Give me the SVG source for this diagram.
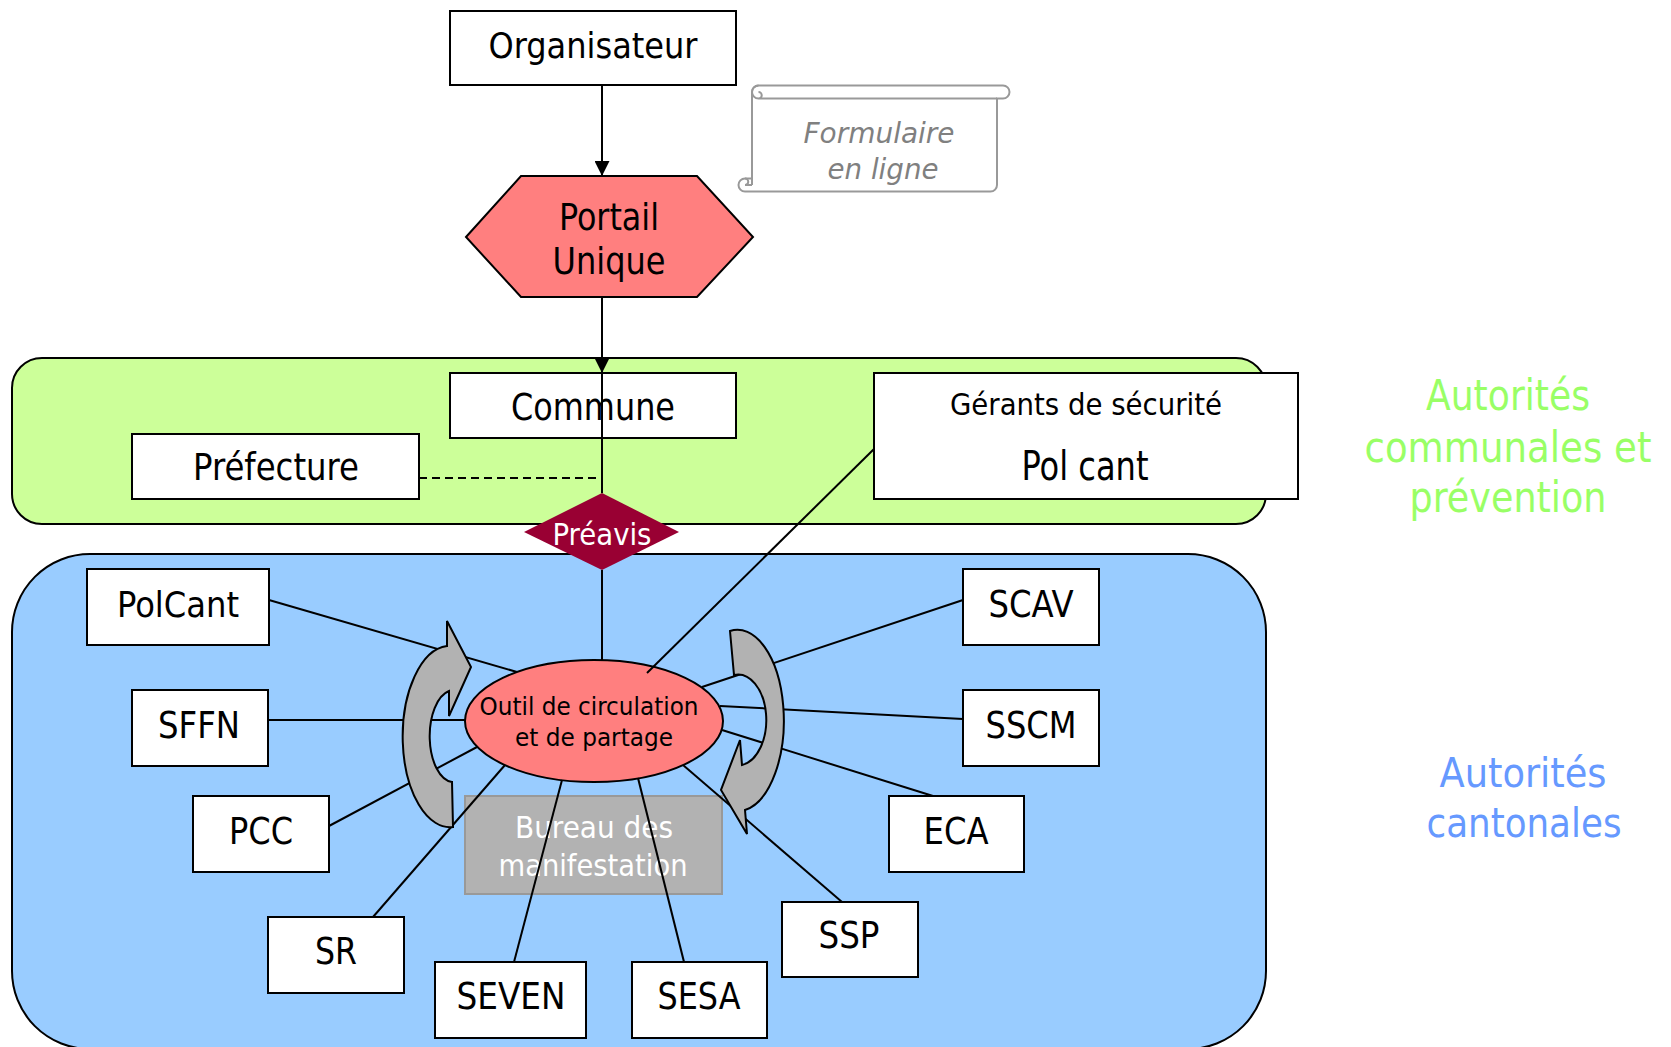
<svg xmlns="http://www.w3.org/2000/svg" width="1671" height="1047" viewBox="0 0 1671 1047">
<style>
.t{font-family:'DejaVu Sans Condensed','DejaVu Sans',sans-serif;font-stretch:condensed;text-anchor:middle;fill:#000}
.box{fill:#fff;stroke:#000;stroke-width:2}
.ln{stroke:#000;stroke-width:2;fill:none}
.arc{fill:#b2b2b2;stroke:#000;stroke-width:2;stroke-linejoin:miter}
</style>
<defs>
<marker id="ah" viewBox="0 0 10 10" refX="10" refY="5" markerWidth="16" markerHeight="15" orient="auto" markerUnits="userSpaceOnUse">
<path d="M0,0 L10,5 L0,10 z" fill="#000"/>
</marker>
</defs>
<rect width="1671" height="1047" fill="#fff"/>
<g id="bands">
<rect id="band-communal" x="12" y="358" width="1254" height="166" rx="30" ry="30" fill="#ccff99" stroke="#000" stroke-width="2"/>
<rect id="band-cantonal" x="12" y="554" width="1254" height="495" rx="78" ry="78" fill="#99ccff" stroke="#000" stroke-width="2"/>
</g>
<g id="nodes">
<g id="bureau"><rect x="465" y="796" width="257" height="98" fill="#b2b2b2" stroke="#999" stroke-width="2"/>
<text class="t" x="594" y="838" font-size="30" textLength="158" lengthAdjust="spacingAndGlyphs" style="fill:#fff">Bureau des</text>
<text class="t" x="593" y="876" font-size="30" textLength="189" lengthAdjust="spacingAndGlyphs" style="fill:#fff">manifestation</text></g>
<g id="organisateur"><rect class="box" x="450" y="11" width="286" height="74"/>
<text class="t" x="593" y="58" font-size="35" textLength="209" lengthAdjust="spacingAndGlyphs">Organisateur</text></g>
<g id="formulaire">
<path d="M752,185 V92 A6.5,6.5 0 0 1 758.5,85.5 H1003 A6.5,6.5 0 0 1 1003,98.5 H997 V185 A6.5,6.5 0 0 1 990.5,191.5 H745 A6.5,6.5 0 0 1 745,178.5 H752" fill="#fff" stroke="#999" stroke-width="2"/>
<path d="M758.5,98.5 H997 M758.5,85.5 A6.5,6.5 0 0 0 758.5,98.5 A3.25,3.25 0 0 0 758.5,92 M745,178.5 A3.25,3.25 0 0 1 745,185 H752" fill="none" stroke="#999" stroke-width="2"/>
<text class="t" x="879" y="143" font-size="29" font-style="italic" textLength="151" lengthAdjust="spacingAndGlyphs" style="fill:#808080">Formulaire</text>
<text class="t" x="883" y="179" font-size="29" font-style="italic" textLength="111" lengthAdjust="spacingAndGlyphs" style="fill:#808080">en ligne</text></g>
<g id="portail"><polygon points="466,237 521,176 697,176 753,237 697,297 521,297" fill="#ff7f7f" stroke="#000" stroke-width="2"/>
<text class="t" x="609" y="230" font-size="38" textLength="100" lengthAdjust="spacingAndGlyphs">Portail</text>
<text class="t" x="609" y="274" font-size="38" textLength="113" lengthAdjust="spacingAndGlyphs">Unique</text></g>
<g id="commune"><rect class="box" x="450" y="373" width="286" height="65"/>
<text class="t" x="593" y="420" font-size="37" textLength="164" lengthAdjust="spacingAndGlyphs">Commune</text></g>
<g id="prefecture"><rect class="box" x="132" y="434" width="287" height="65"/>
<text class="t" x="276" y="480" font-size="37" textLength="166" lengthAdjust="spacingAndGlyphs">Préfecture</text></g>
<g id="gerants"><rect class="box" x="874" y="373" width="424" height="126"/>
<text class="t" x="1086" y="415" font-size="30" textLength="272" lengthAdjust="spacingAndGlyphs">Gérants de sécurité</text>
<text class="t" x="1085" y="480" font-size="40" textLength="127" lengthAdjust="spacingAndGlyphs">Pol cant</text></g>
<g id="preavis"><polygon points="602,493 679,532 602,570 524,532" fill="#990033"/>
<text class="t" x="602" y="545" font-size="30" textLength="99" lengthAdjust="spacingAndGlyphs" style="fill:#fff">Préavis</text></g>
<g id="outil"><ellipse cx="594" cy="721" rx="129" ry="61" fill="#ff7f7f" stroke="#000" stroke-width="2"/>
<text class="t" x="589" y="715" font-size="25" textLength="219" lengthAdjust="spacingAndGlyphs">Outil de circulation</text>
<text class="t" x="594" y="746" font-size="25" textLength="158" lengthAdjust="spacingAndGlyphs">et de partage</text></g>
<g id="polcant"><rect class="box" x="87" y="569" width="182" height="76"/>
<text class="t" x="178" y="617" font-size="36" textLength="122" lengthAdjust="spacingAndGlyphs">PolCant</text></g>
<g id="sffn"><rect class="box" x="132" y="690" width="136" height="76"/>
<text class="t" x="199" y="738" font-size="37" textLength="82" lengthAdjust="spacingAndGlyphs">SFFN</text></g>
<g id="pcc"><rect class="box" x="193" y="796" width="136" height="76"/>
<text class="t" x="261" y="844" font-size="37" textLength="64" lengthAdjust="spacingAndGlyphs">PCC</text></g>
<g id="sr"><rect class="box" x="268" y="917" width="136" height="76"/>
<text class="t" x="336" y="964" font-size="37" textLength="42" lengthAdjust="spacingAndGlyphs">SR</text></g>
<g id="seven"><rect class="box" x="435" y="962" width="151" height="76"/>
<text class="t" x="511" y="1009" font-size="37" textLength="109" lengthAdjust="spacingAndGlyphs">SEVEN</text></g>
<g id="sesa"><rect class="box" x="632" y="962" width="135" height="76"/>
<text class="t" x="699" y="1009" font-size="37" textLength="83" lengthAdjust="spacingAndGlyphs">SESA</text></g>
<g id="ssp"><rect class="box" x="782" y="902" width="136" height="75"/>
<text class="t" x="849" y="948" font-size="37" textLength="61" lengthAdjust="spacingAndGlyphs">SSP</text></g>
<g id="eca"><rect class="box" x="889" y="796" width="135" height="76"/>
<text class="t" x="956" y="844" font-size="37" textLength="65" lengthAdjust="spacingAndGlyphs">ECA</text></g>
<g id="sscm"><rect class="box" x="963" y="690" width="136" height="76"/>
<text class="t" x="1031" y="738" font-size="37" textLength="91" lengthAdjust="spacingAndGlyphs">SSCM</text></g>
<g id="scav"><rect class="box" x="963" y="569" width="136" height="76"/>
<text class="t" x="1031" y="617" font-size="37" textLength="85" lengthAdjust="spacingAndGlyphs">SCAV</text></g>
</g>
<g id="connectors">
<line class="ln" x1="602" y1="85" x2="602" y2="176" marker-end="url(#ah)"/>
<line class="ln" x1="602" y1="297" x2="602" y2="373" marker-end="url(#ah)"/>
<line class="ln" x1="602" y1="373" x2="602" y2="493"/>
<line class="ln" x1="419" y1="478" x2="597" y2="478" stroke-dasharray="8 5"/>
<line class="ln" x1="874" y1="449" x2="647" y2="673"/>
<line class="ln" x1="602" y1="570" x2="602" y2="660"/>
<line class="ln" x1="269" y1="600" x2="517" y2="672"/>
<line class="ln" x1="268" y1="720" x2="465" y2="720"/>
<line class="ln" x1="329" y1="826" x2="477" y2="747"/>
<line class="ln" x1="373" y1="917" x2="505" y2="765"/>
<line class="ln" x1="514" y1="962" x2="562" y2="780"/>
<line class="ln" x1="684" y1="962" x2="638" y2="778"/>
<line class="ln" x1="842" y1="902" x2="683" y2="765"/>
<line class="ln" x1="933" y1="796" x2="722" y2="730"/>
<line class="ln" x1="963" y1="719" x2="720" y2="706"/>
<line class="ln" x1="963" y1="600" x2="702" y2="687"/>
</g>
<g id="cycle-arrows">
<path class="arc" d="M447,646 A47,90 0 0 0 453,827 L452,782 A24,46 0 0 1 449,691 L449,716 L471,667 L447,621 Z"/>
<path class="arc" d="M730,631 A46,90 0 0 1 745,810 L747,834 L721,790 L740,740 L742,765 A28,45 0 0 0 734,675 Z"/>
</g>
<g id="labels">
<text class="t" x="1508" y="410" font-size="43" textLength="164" lengthAdjust="spacingAndGlyphs" style="fill:#99ff66">Autorités</text>
<text class="t" x="1508" y="462" font-size="43" textLength="287" lengthAdjust="spacingAndGlyphs" style="fill:#99ff66">communales et</text>
<text class="t" x="1508" y="512" font-size="43" textLength="197" lengthAdjust="spacingAndGlyphs" style="fill:#99ff66">prévention</text>
<text class="t" x="1523" y="787" font-size="41" textLength="167" lengthAdjust="spacingAndGlyphs" style="fill:#6699ff">Autorités</text>
<text class="t" x="1524" y="837" font-size="41" textLength="195" lengthAdjust="spacingAndGlyphs" style="fill:#6699ff">cantonales</text>
</g>
</svg>
